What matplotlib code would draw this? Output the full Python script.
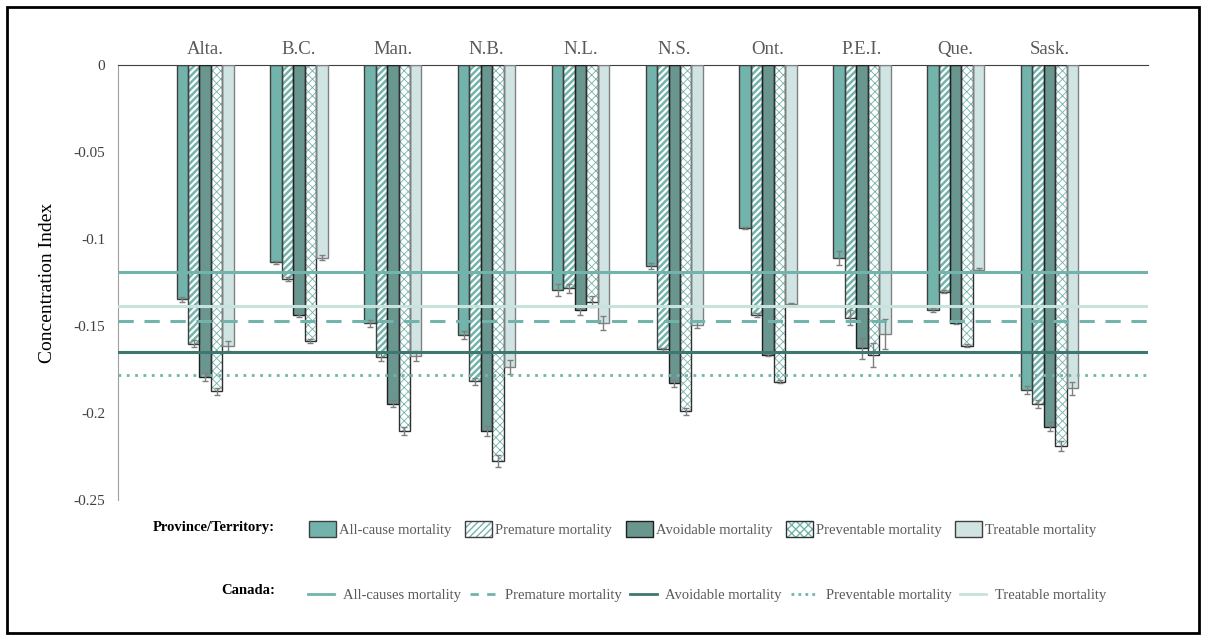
import matplotlib
matplotlib.use("Agg")
import matplotlib.pyplot as plt
import numpy as np
from matplotlib.patches import Patch, Rectangle
from matplotlib.lines import Line2D
from matplotlib.legend_handler import HandlerTuple

plt.rcParams['font.family'] = ['Liberation Serif', 'DejaVu Serif']

provinces = ['Alta.', 'B.C.', 'Man.', 'N.B.', 'N.L.', 'N.S.', 'Ont.', 'P.E.I.', 'Que.', 'Sask.']

all_cause   = [-0.1347, -0.1134, -0.1485, -0.1550, -0.1293, -0.1155, -0.0935, -0.1111, -0.1408, -0.1868]
premature   = [-0.1603, -0.1230, -0.1676, -0.1818, -0.1284, -0.1634, -0.1437, -0.1452, -0.1303, -0.1948]
avoidable   = [-0.1795, -0.1439, -0.1948, -0.2103, -0.1408, -0.1830, -0.1667, -0.1628, -0.1481, -0.2078]
preventable = [-0.1874, -0.1586, -0.2103, -0.2276, -0.1360, -0.1989, -0.1820, -0.1667, -0.1613, -0.2190]
treatable   = [-0.1615, -0.1107, -0.1672, -0.1737, -0.1485, -0.1494, -0.1376, -0.1548, -0.1178, -0.1858]

err_all_cause   = [0.0015, 0.0010, 0.0020, 0.0022, 0.0033, 0.0015, 0.0005, 0.0040, 0.0010, 0.0024]
err_premature   = [0.0020, 0.0010, 0.0024, 0.0020, 0.0026, 0.0010, 0.0010, 0.0044, 0.0010, 0.0024]
err_avoidable   = [0.0022, 0.0010, 0.0020, 0.0030, 0.0030, 0.0020, 0.0007, 0.0060, 0.0005, 0.0027]
err_preventable = [0.0020, 0.0010, 0.0024, 0.0036, 0.0033, 0.0020, 0.0007, 0.0067, 0.0010, 0.0030]
err_treatable   = [0.0030, 0.0015, 0.0027, 0.0040, 0.0040, 0.0020, 0.0010, 0.0086, 0.0010, 0.0036]

# national reference values
canada_all_causes  = -0.119
canada_premature   = -0.147
canada_avoidable   = -0.165
canada_preventable = -0.178
canada_treatable   = -0.1385

teal = '#72B4AB'
dark = '#6A9690'
light = '#D0E5E3'
line_dark = '#3E7670'
line_light = '#C8E2DE'

fig = plt.figure(figsize=(12.1, 6.42), dpi=100)
ax = fig.add_axes([0.0975, 0.2212, 0.8513, 0.6776])

x = np.arange(len(provinces))
w = 0.122
offsets = np.array([-2, -1, 0, 1, 2]) * w

series = [
    (all_cause, err_all_cause, teal, None, '#404040'),
    (premature, err_premature, 'white', '/////', '#404040'),
    (avoidable, err_avoidable, dark, None, '#202020'),
    (preventable, err_preventable, 'white', 'xxxx', '#303030'),
    (treatable, err_treatable, light, None, '#808080'),
]

for i, (vals, errs, fc, hatch, ec) in enumerate(series):
    hatch_lw = 1.8 if hatch == '/////' else 0.6
    with plt.rc_context({'hatch.linewidth': hatch_lw, 'hatch.color': teal}):
        ax.bar(x + offsets[i], vals, width=w, facecolor=fc, hatch=hatch,
               edgecolor=teal if hatch else 'none', linewidth=0, zorder=2)
    ax.bar(x + offsets[i], vals, width=w, facecolor='none', edgecolor=ec,
           linewidth=1.0, zorder=3)
    ax.errorbar(x + offsets[i], vals, yerr=errs, fmt='none', ecolor='#7F7F7F',
                elinewidth=1, capsize=2.2, capthick=1, zorder=4)

ax.axhline(canada_all_causes, color=teal, lw=2.2, zorder=5)
ax.axhline(canada_treatable, color=line_light, lw=2.2, zorder=5)
ax.axhline(canada_premature, color=teal, lw=2.2, ls=(0, (5, 3.5)), zorder=5)
ax.axhline(canada_avoidable, color=line_dark, lw=2.2, zorder=5)
ax.axhline(canada_preventable, color=teal, lw=2.0, ls=(0, (1, 2)), zorder=5)

ax.set_xlim(-0.93, 10.05)
ax.set_ylim(-0.25, 0)
ax.set_yticks([0, -0.05, -0.1, -0.15, -0.2, -0.25])
ax.set_yticklabels(['0', '-0.05', '-0.1', '-0.15', '-0.2', '-0.25'])
ax.tick_params(axis='y', length=0, pad=9, labelsize=11, labelcolor='#404040')
ax.set_xticks(x)
ax.set_xticklabels(provinces)
ax.xaxis.set_ticks_position('top')
ax.tick_params(axis='x', length=0, pad=5, labelsize=13.5, labelcolor='#595959')
ax.set_ylabel('Concentration Index', fontsize=14, labelpad=13)

for s in ['right', 'bottom']:
    ax.spines[s].set_visible(False)
ax.spines['left'].set_color('#A0A0A0')
ax.spines['top'].set_color('#404040')

# legend rows
with plt.rc_context({'hatch.linewidth': 1.8, 'hatch.color': teal}):
    h_prem = Patch(facecolor='white', hatch='/////', edgecolor=teal, lw=0)
with plt.rc_context({'hatch.linewidth': 0.6, 'hatch.color': teal}):
    h_prev = Patch(facecolor='white', hatch='xxxx', edgecolor=teal, lw=0)
bar_handles = [
    Patch(facecolor=teal, edgecolor='#404040'),
    (h_prem, Patch(facecolor='none', edgecolor='#404040')),
    Patch(facecolor=dark, edgecolor='#202020'),
    (h_prev, Patch(facecolor='none', edgecolor='#303030')),
    Patch(facecolor=light, edgecolor='#404040'),
]
bar_labels = ['All-cause mortality', 'Premature mortality', 'Avoidable mortality',
              'Preventable mortality', 'Treatable mortality']
fig.legend(bar_handles, bar_labels, loc='center left',
           bbox_to_anchor=(309 / 1210, 1 - 529 / 642), ncol=5, frameon=False,
           borderpad=0, borderaxespad=0,
           handler_map={tuple: HandlerTuple(ndivide=1, pad=0)},
           handlelength=1.85, handleheight=1.25, handletextpad=0.2,
           columnspacing=0.95, fontsize=10.5, labelcolor='#595959')

line_handles = [
    Line2D([], [], color=teal, lw=2),
    Line2D([], [], color=teal, lw=2, ls=(0, (3, 3))),
    Line2D([], [], color=line_dark, lw=2),
    Line2D([], [], color=teal, lw=2, ls=(0, (1, 1.5))),
    Line2D([], [], color=line_light, lw=2),
]
line_labels = ['All-causes mortality', 'Premature mortality', 'Avoidable mortality',
               'Preventable mortality', 'Treatable mortality']
fig.legend(line_handles, line_labels, loc='center left',
           bbox_to_anchor=(308 / 1210, 1 - 595 / 642), ncol=5, frameon=False,
           borderpad=0, borderaxespad=0,
           handlelength=1.8, handletextpad=0.6, columnspacing=0.6,
           fontsize=10.5, labelcolor='#595959')

fig.text(275 / 1210, 1 - 528 / 642, 'Province/Territory:', ha='right', va='center',
         fontsize=10.5, fontweight='bold')
fig.text(275 / 1210, 1 - 590 / 642, 'Canada:', ha='right', va='center',
         fontsize=10.5, fontweight='bold')

fig.patches.append(Rectangle((7 / 1210, 9 / 642), 1192 / 1210, 626 / 642,
                             transform=fig.transFigure, fill=False,
                             edgecolor='black', lw=2))

fig.savefig('out.png', dpi=100)
